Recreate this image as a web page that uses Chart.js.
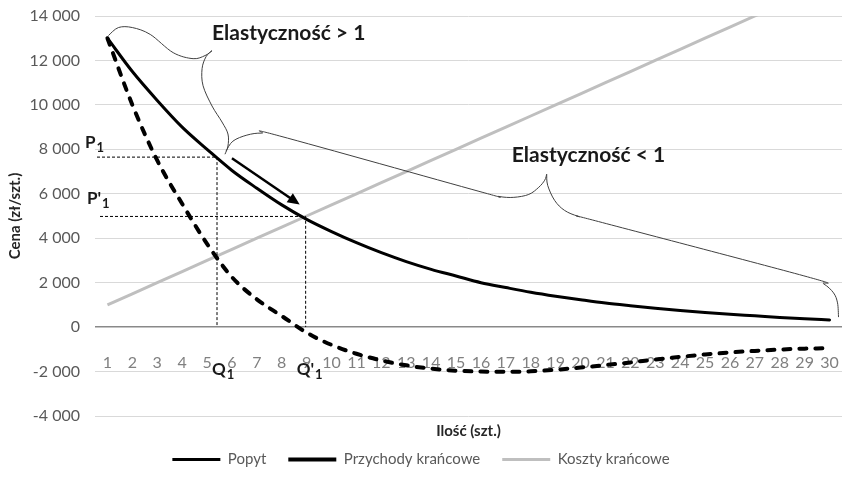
<!DOCTYPE html>
<html>
<head>
<meta charset="utf-8">
<script src="https://cdn.jsdelivr.net/npm/chart.js@4.4.1/dist/chart.umd.min.js"></script>
<style>
  html, body { margin: 0; padding: 0; background: #fff; }
</style>
</head>
<body>
<canvas id="wykres" width="842" height="492"></canvas>
<script>
// ilość (szt.)
const ilosc = ['1','2','3','4','5','6','7','8','9','10','11','12','13','14','15',
               '16','17','18','19','20','21','22','23','24','25','26','27','28','29','30'];

// cena (zł/szt.)
const popyt = [13000, 11500, 10200, 9000, 8000, 7050, 6250, 5500, 4850, 4300,
               3800, 3350, 2950, 2600, 2300, 2000, 1780, 1570, 1390, 1230,
               1080, 960, 850, 750, 660, 580, 510, 437, 374, 320];
const przychodyKrancowe = [13000, 10000, 7500, 5550, 3750, 2250, 1250, 500, -250, -800,
                           -1200, -1500, -1720, -1870, -1960, -2000, -2010, -1990, -1920, -1820,
                           -1710, -1590, -1460, -1340, -1230, -1140, -1070, -1010, -970, -950];
const kosztyKrancowe = [1000, 1500, 2000, 2500, 3000, 3500, 4000, 4500, 5000, 5500,
                        6000, 6500, 7000, 7500, 8000, 8500, 9000, 9500, 10000, 10500,
                        11000, 11500, 12000, 12500, 13000, 13500, 14000, 14500, 15000, 15500];

const osY = { min: -4000, max: 14000, krok: 2000 };

// adnotacje: [indeks kategorii od 0, cena]
const Q1 = 4.4, P1 = 7650;
const Q1p = 7.96, P1p = 4980;
const strzalka = [[5.0, 7600], [7.72, 5520]];
const klamra1a = [[0.04, 13120], [0.44, 13480], [1.0, 13480], [1.72, 13170], [2.64, 12350], [3.44, 12080], [3.92, 12220], [4.2, 12440]];
const klamra1b = [[4.2, 12440], [3.96, 12170], [3.8, 11630], [3.84, 10860], [4.2, 9950], [4.6, 9230], [4.84, 8690], [4.84, 8150], [4.72, 7780]];
const klamra2a = [[4.76, 7920], [5.04, 8370], [5.6, 8640], [6.2, 8730], [6.92, 8600], [14.92, 6110], [15.72, 5880], [16.32, 5840], [16.92, 5970], [17.32, 6290], [17.56, 6610], [17.64, 6880]];
const klamra2b = [[17.64, 6880], [17.68, 6380], [17.96, 5700], [18.36, 5250], [18.92, 4980], [19.72, 4750], [28.12, 2260], [28.76, 1950], [29.16, 1540], [29.32, 1090], [29.36, 450]];

Chart.defaults.font.family = 'Lato';

function formatuj(v) {
  const s = Math.abs(v).toString().replace(/\B(?=(\d{3})+(?!\d))/g, ' ');
  return (v < 0 ? '-' : '') + s;
}

// gładka krzywa przez punkty (Catmull-Rom)
function krzywa(ctx, pts) {
  ctx.moveTo(pts[0][0], pts[0][1]);
  for (let i = 0; i < pts.length - 1; i++) {
    const p0 = pts[i - 1] || pts[i], p1 = pts[i], p2 = pts[i + 1], p3 = pts[i + 2] || p2;
    ctx.bezierCurveTo(p1[0] + (p2[0] - p0[0]) / 6, p1[1] + (p2[1] - p0[1]) / 6,
                      p2[0] - (p3[0] - p1[0]) / 6, p2[1] - (p3[1] - p1[1]) / 6,
                      p2[0], p2[1]);
  }
}

const adnotacje = {
  id: 'adnotacje',
  afterDatasetsDraw(chart) {
    const { ctx, chartArea, scales: { x, y } } = chart;
    const px = p => [x.getPixelForValue(p[0]), y.getPixelForValue(p[1])];
    ctx.save();

    // linie przerywane
    ctx.strokeStyle = '#000';
    ctx.lineWidth = 1;
    ctx.setLineDash([3, 2]);
    ctx.beginPath();
    ctx.moveTo(chartArea.left + 2, y.getPixelForValue(P1));
    ctx.lineTo(x.getPixelForValue(Q1), y.getPixelForValue(P1));
    ctx.lineTo(x.getPixelForValue(Q1), y.getPixelForValue(0));
    ctx.moveTo(chartArea.left + 5, y.getPixelForValue(P1p));
    ctx.lineTo(x.getPixelForValue(Q1p), y.getPixelForValue(P1p));
    ctx.lineTo(x.getPixelForValue(Q1p), y.getPixelForValue(0));
    ctx.stroke();
    ctx.setLineDash([]);

    // klamry
    ctx.strokeStyle = '#404040';
    ctx.lineWidth = 1;
    [klamra1a, klamra1b, klamra2a, klamra2b].forEach(k => {
      ctx.beginPath();
      krzywa(ctx, k.map(px));
      ctx.stroke();
    });

    // strzałka
    const a = px(strzalka[0]), b = px(strzalka[1]);
    const kat = Math.atan2(b[1] - a[1], b[0] - a[0]);
    ctx.strokeStyle = '#000';
    ctx.fillStyle = '#000';
    ctx.lineWidth = 2.5;
    ctx.beginPath();
    ctx.moveTo(a[0], a[1]);
    ctx.lineTo(b[0] - 8 * Math.cos(kat), b[1] - 8 * Math.sin(kat));
    ctx.stroke();
    ctx.beginPath();
    ctx.moveTo(b[0], b[1]);
    ctx.lineTo(b[0] - 12 * Math.cos(kat) + 5.5 * Math.sin(kat), b[1] - 12 * Math.sin(kat) - 5.5 * Math.cos(kat));
    ctx.lineTo(b[0] - 12 * Math.cos(kat) - 5.5 * Math.sin(kat), b[1] - 12 * Math.sin(kat) + 5.5 * Math.cos(kat));
    ctx.closePath();
    ctx.fill();

    // opisy
    ctx.fillStyle = '#1a1a1a';
    ctx.textBaseline = 'alphabetic';
    ctx.textAlign = 'left';
    const etykieta = (tekst, indeks, xl, yb) => {
      ctx.font = 'bold 17px Lato';
      ctx.fillText(tekst, xl, yb);
      const w = ctx.measureText(tekst).width;
      ctx.font = 'bold 13px Lato';
      ctx.fillText(indeks, xl + w + 1, yb + 4);
    };
    const y0 = y.getPixelForValue(0);
    etykieta('P', '1', chartArea.left - 10, y.getPixelForValue(P1) - 9);
    etykieta("P'", '1', chartArea.left - 8, y.getPixelForValue(P1p) - 12);
    etykieta('Q', '1', x.getPixelForValue(Q1) - 5, y0 + 48);
    etykieta("Q'", '1', x.getPixelForValue(Q1p) - 9, y0 + 48);

    ctx.font = 'bold 21px Lato';
    ctx.fillText('Elastyczność > 1', x.getPixelForValue(4.2), y.getPixelForValue(12900));
    ctx.fillText('Elastyczność < 1', x.getPixelForValue(16.24), y.getPixelForValue(7420));
    ctx.restore();
  }
};

new Chart(document.getElementById('wykres'), {
  type: 'line',
  data: {
    labels: ilosc,
    datasets: [{
      label: 'Popyt',
      data: popyt,
      xAxisID: 'x',
      borderColor: '#000',
      backgroundColor: '#000',
      borderWidth: 3,
      borderCapStyle: 'round',
      pointRadius: 0,
      cubicInterpolationMode: 'monotone'
    }, {
      label: 'Przychody krańcowe',
      data: przychodyKrancowe,
      xAxisID: 'x',
      borderColor: '#000',
      backgroundColor: '#000',
      borderWidth: 4,
      borderDash: [7, 9],
      borderCapStyle: 'round',
      pointRadius: 0,
      cubicInterpolationMode: 'monotone'
    }, {
      label: 'Koszty krańcowe',
      data: kosztyKrancowe,
      xAxisID: 'x',
      borderColor: '#bfbfbf',
      backgroundColor: '#bfbfbf',
      borderWidth: 3,
      pointRadius: 0
    }]
  },
  options: {
    responsive: false,
    animation: false,
    layout: { padding: { top: 16, right: 0, bottom: 15, left: 0 } },
    plugins: {
      legend: {
        position: 'bottom',
        labels: {
          usePointStyle: true,
          pointStyle: 'line',
          pointStyleWidth: 48,
          padding: 22,
          color: '#595959',
          font: { size: 15 }
        }
      },
      tooltip: { enabled: false }
    },
    scales: {
      x: {
        position: { y: 0 },
        offset: true,
        grid: { display: false },
        border: { display: false },
        ticks: { color: '#808080', padding: 18, autoSkip: false, maxRotation: 0, font: { size: 16 } },
        afterFit: s => { s.height = 0; s.paddingLeft = 0; s.paddingRight = 0; }
      },
      xTytul: {
        type: 'category',
        position: 'bottom',
        grid: { display: false },
        border: { display: false },
        ticks: { display: false },
        title: {
          display: true,
          text: 'Ilość (szt.)',
          color: '#262626',
          font: { size: 15, weight: 'bold' },
          padding: { top: -2, bottom: -10 }
        }
      },
      y: {
        min: osY.min,
        max: osY.max,
        ticks: { stepSize: osY.krok, padding: 15, color: '#595959', font: { size: 16 }, callback: formatuj },
        grid: {
          drawTicks: false,
          color: c => c.tick && c.tick.value === 0 ? '#898989' : '#d9d9d9',
          lineWidth: c => c.tick && c.tick.value === 0 ? 1.5 : 1
        },
        border: { display: false },
        title: {
          display: true,
          text: 'Cena (zł/szt.)',
          color: '#262626',
          font: { size: 15, weight: 'bold' },
          padding: { top: 6, bottom: 0 }
        },
        afterFit: s => { s.width = 95; s.paddingTop = 0; s.paddingBottom = 0; }
      }
    }
  },
  plugins: [adnotacje]
});
</script>
</body>
</html>
